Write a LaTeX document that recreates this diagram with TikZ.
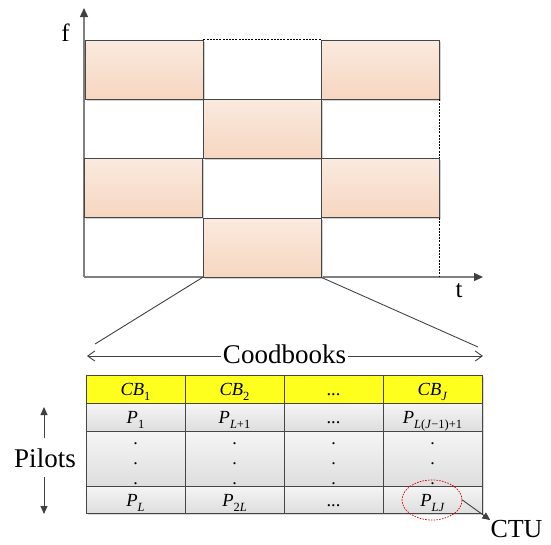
\documentclass[tikz,border=0pt]{standalone}
\usepackage{fontspec}
\setmainfont{Liberation Serif}
\usetikzlibrary{arrows.meta,shapes.geometric,shadows}
\definecolor{peachT}{RGB}{250,234,223}
\definecolor{peachB}{RGB}{246,214,192}
\definecolor{grayT}{RGB}{245,245,245}
\definecolor{grayB}{RGB}{222,222,222}
\definecolor{hdrY}{RGB}{255,255,30}
\definecolor{edge}{RGB}{70,70,70}
\definecolor{axisc}{RGB}{128,128,128}
\definecolor{tipc}{RGB}{64,64,64}
\newcommand\sbx[1]{\raisebox{-5pt}{\fontsize{12.5}{12.5}\selectfont #1}}
\begin{document}
\begin{tikzpicture}[x=1pt,y=-1pt,
  cellbox/.style={rectangle, inner sep=0pt, minimum width=118pt, minimum height=59pt,
    draw=edge, line width=0.8pt},
  peach/.style={cellbox, top color=peachT, bottom color=peachB,
    general shadow={fill=black!18, shadow xshift=1.5pt, shadow yshift=-1.5pt}},
  axisline/.style={draw=axisc, line width=1.4pt, -{Triangle[length=9pt,width=8pt,fill=tipc,color=tipc]}},
  dashline/.style={draw=black, line width=0.7pt, dash pattern=on 2pt off 1.2pt},
  zoomline/.style={draw=tipc, line width=0.9pt},
  tcell/.style={rectangle, inner sep=0pt, draw=edge, line width=0.8pt,
    text height=15pt, text depth=2pt, font=\fontsize{18.5}{20}\selectfont,
    general shadow={fill=black!15, shadow xshift=2pt, shadow yshift=-2pt}},
  hdrcell/.style={tcell, fill=hdrY, minimum width=99pt, minimum height=28pt},
  graycell/.style={tcell, top color=grayT, bottom color=grayB, minimum width=99pt},
  biglbl/.style={font=\fontsize{27}{30}\selectfont},
  axlbl/.style={font=\fontsize{25}{28}\selectfont, anchor=base, inner sep=0pt},
  dotlbl/.style={font=\fontsize{18}{20}\selectfont, anchor=base, inner sep=0pt},
  dblarrow/.style={draw=tipc, line width=0.9pt, -{Straight Barb[length=7pt,width=10pt]}},
  pilarrow/.style={draw=tipc, line width=0.9pt, -{Triangle[length=8pt,width=7pt]}},
  selring/.style={ellipse, draw=red!85!black, line width=0.7pt, dash pattern=on 1.6pt off 1.2pt,
    minimum width=60pt, minimum height=40pt, inner sep=0pt}
]
\useasboundingbox (0,0) rectangle (551,544);

% axes
\coordinate (O) at (84,277);
\coordinate (ytip) at (84,8);
\coordinate (xtip) at (483,277);
\draw[axisline] (O) -- (ytip);
\draw[axisline] (O) -- (xtip);
\node[axlbl] (flbl) at (65.5,41.5) {f};
\node[axlbl] (tlbl) at (459,297.5) {t};

% shaded time-frequency blocks
\node[peach] (r1c1) at (144,69.5) {};
\node[peach] (r1c3) at (380,69.5) {};
\node[peach] (r2c2) at (262,128.5) {};
\node[peach] (r3c1) at (143.5,188) {};
\node[peach] (r3c3) at (380,188) {};
\node[peach] (r4c2) at (262,247.5) {};

% dashed borders of empty cells
\draw[dashline] (r1c1.north east) -- (r1c3.north west);
\draw[dashline] (r1c3.south east) -- (r3c3.north east);
\draw[dashline] (r3c3.south east) -- (r3c3.south east |- O);

% zoom lines
\coordinate (zl) at (95,344);
\coordinate (zr) at (478,347);
\draw[zoomline] (r4c2.south west) -- (zl);
\draw[zoomline] (r4c2.south east) -- (zr);

% Coodbooks
\node[biglbl, inner sep=2pt] (cbk) at (284.5,354) {Coodbooks};
\coordinate (cbL) at (87,356);
\coordinate (cbR) at (483,356);
\draw[dblarrow] (cbk.west |- cbL) -- (cbL);
\draw[dblarrow] (cbk.east |- cbR) -- (cbR);

% table header
\node[hdrcell] (h1) at (135.5,389) {\textit{CB}\sbx{1}};
\node[hdrcell] (h2) at (234.5,389) {\textit{CB}\sbx{2}};
\node[hdrcell] (h3) at (333.5,389) {...};
\node[hdrcell] (h4) at (432.5,389) {\textit{CB}\sbx{\textit{J}}};
% row P first
\node[graycell, minimum height=28pt] (a1) at (135.5,417) {\textit{P}\sbx{1}};
\node[graycell, minimum height=28pt] (a2) at (234.5,417) {\textit{P}\sbx{\textit{L}+1}};
\node[graycell, minimum height=28pt] (a3) at (333.5,417) {...};
\node[graycell, minimum height=28pt] (a4) at (432.5,417) {\textit{P}\sbx{\textit{L}(\textit{J}−1)+1}};
% middle row
\node[graycell, minimum height=55pt] (m1) at (135.5,458.5) {};
\node[graycell, minimum height=55pt] (m2) at (234.5,458.5) {};
\node[graycell, minimum height=55pt] (m3) at (333.5,458.5) {};
\node[graycell, minimum height=55pt] (m4) at (432.5,458.5) {};
% last row
\node[graycell, minimum height=27pt] (b1) at (135.5,499.5) {\textit{P}\sbx{\textit{L}}};
\node[graycell, minimum height=27pt] (b2) at (234.5,499.5) {\textit{P}\sbx{2\textit{L}}};
\node[graycell, minimum height=27pt] (b3) at (333.5,499.5) {...};
\node[graycell, minimum height=27pt] (b4) at (432.5,499.5) {\textit{P}\sbx{\textit{LJ}}};

% vertical dots
\foreach \c/\x in {1/135.5,2/234.5,3/333.5,4/432.5}
  \foreach \r/\y in {1/444,2/464,3/484}
    \node[dotlbl] (dot\c\r) at (\x,\y) {.};

% Pilots
\node[biglbl, inner sep=0pt] (pil) at (45,458.5) {Pilots};
\coordinate (ptop) at (44,407);
\coordinate (pbot) at (44,514);
\draw[pilarrow] ([yshift=11pt]pil.north -| ptop) -- (ptop);
\draw[pilarrow] ([yshift=-9pt]pil.south -| pbot) -- (pbot);

% selection ring and CTU
\node[selring] (sel) at (432,500) {};
\node[biglbl, inner sep=0pt, anchor=base, font=\fontsize{26}{28}\selectfont] (ctu) at (516.5,537.5) {CTU};
\draw[pilarrow] (sel.east) -- (ctu.north west);
\end{tikzpicture}
\end{document}
